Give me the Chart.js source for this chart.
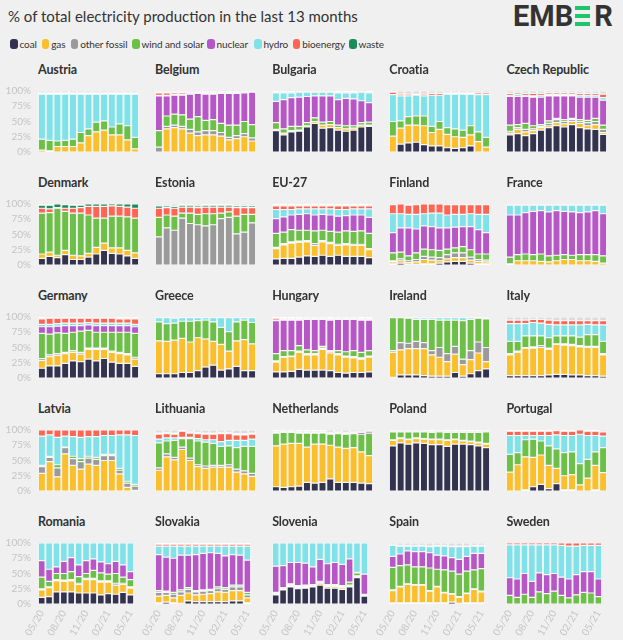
<!DOCTYPE html>
<html>
<head>
<meta charset="utf-8">
<script src="https://cdn.jsdelivr.net/npm/chart.js@4.4.0/dist/chart.umd.min.js"></script>
<style>
  body { margin: 0; background: #f0f0f0; width: 623px; height: 640px; overflow: hidden; position: relative; font-family: Lato, sans-serif; }
  #titre { position: absolute; left: 8px; top: 7px; font-size: 15px; color: #333; white-space: nowrap; line-height: 18px; }
  .item { position: absolute; top: 37px; font-size: 10px; letter-spacing: -0.1px; color: #333; white-space: nowrap; line-height: 14px; }
  .cle { position: absolute; top: 38.7px; width: 7.5px; height: 10.5px; border-radius: 3px; }
  .pays { position: absolute; font-size: 12.5px; letter-spacing: -0.15px; font-weight: bold; color: #333; line-height: 16px; white-space: nowrap; }
  .boite { position: absolute; }
  #logo { position: absolute; left: 513px; top: 3px; height: 26px; font-family: Roboto, sans-serif; font-weight: 700; font-size: 29px; color: #333; line-height: 26px; white-space: nowrap; }
  #logo span { display: inline-block; vertical-align: top; }
  .barre { position: absolute; left: 0; width: 15px; height: 4px; background: #1fc46e; }
</style>
</head>
<body>
<div id="titre">% of total electricity production in the last 13 months</div>
<div id="logo"><span>EMB</span><span style="position:relative;width:17px;height:26px;margin:0 2px;"><i class="barre" style="top:3px"></i><i class="barre" style="top:11px"></i><i class="barre" style="top:19px"></i></span><span>R</span></div>

<script>
// mois et sources
var mois = ["05/20", "06/20", "07/20", "08/20", "09/20", "10/20", "11/20", "12/20", "01/21", "02/21", "03/21", "04/21", "05/21"];
var sources = ["coal", "gas", "other fossil", "wind and solar", "nuclear", "hydro", "bioenergy", "waste", "other"];
var cores = ["#33324f", "#fcbf2c", "#9a9a9a", "#6cbf47", "#b756c6", "#7ee2e8", "#ff6552", "#1c8c5c", "#dcdcdc"];
var paises = ["Austria", "Belgium", "Bulgaria", "Croatia", "Czech Republic",
  "Denmark", "Estonia", "EU-27", "Finland", "France",
  "Germany", "Greece", "Hungary", "Ireland", "Italy",
  "Latvia", "Lithuania", "Netherlands", "Poland", "Portugal",
  "Romania", "Slovakia", "Slovenia", "Spain", "Sweden"];

// linhas: coal, gas, other fossil, wind and solar, nuclear, hydro, bioenergy, waste, other
var austria = [
  [0, 0, 0, 0, 0, 0, 0, 0, 0, 0, 0, 0, 0],
  [3, 2, 9, 9, 9, 15, 27, 33, 36, 28, 28, 20, 5],
  [0, 0, 0, 0, 0, 0, 0, 0, 0, 0, 0, 0, 0],
  [18, 17, 9, 10, 12, 17, 11, 16, 15, 13, 18, 23, 19],
  [0, 0, 0, 0, 0, 0, 0, 0, 0, 0, 0, 0, 0],
  [74, 76, 77, 76, 74, 63, 57, 46, 44, 54, 49, 52, 71],
  [2, 2, 2, 2, 2, 2, 2, 2, 2, 2, 2, 2, 2],
  [0, 0, 0, 0, 0, 0, 0, 0, 0, 0, 0, 0, 0],
  [3, 3, 3, 3, 3, 3, 3, 3, 3, 3, 3, 3, 3]
];
var belgium = [
  [0, 0, 0, 0, 0, 0, 0, 0, 0, 0, 0, 0, 0],
  [0, 38, 40, 38, 31, 27, 28, 28, 26, 20, 22, 25, 18],
  [8, 4, 4, 4, 6, 6, 7, 7, 6, 4, 5, 5, 5],
  [27, 17, 18, 19, 17, 25, 17, 18, 15, 20, 17, 20, 22],
  [57, 33, 31, 32, 41, 38, 43, 42, 49, 52, 52, 47, 53],
  [1, 1, 1, 1, 1, 1, 1, 1, 1, 1, 1, 1, 1],
  [4, 4, 3, 3, 2, 2, 2, 2, 2, 2, 2, 1, 1],
  [2, 2, 2, 2, 1, 1, 1, 1, 1, 1, 1, 1, 0],
  [1, 1, 1, 1, 1, 0, 1, 1, 0, 0, 0, 0, 0]
];
var bulgaria = [
  [35, 28, 33, 34, 41, 47, 39, 40, 36, 34, 36, 41, 42],
  [2, 3, 2, 2, 2, 3, 5, 5, 4, 4, 3, 3, 2],
  [0, 0, 0, 0, 0, 0, 0, 0, 0, 0, 0, 0, 0],
  [11, 7, 7, 6, 5, 6, 5, 5, 4, 5, 4, 4, 5],
  [35, 48, 47, 48, 43, 36, 43, 42, 42, 45, 44, 36, 32],
  [14, 11, 8, 8, 7, 6, 6, 6, 11, 9, 10, 14, 16],
  [1, 1, 1, 1, 1, 1, 1, 1, 1, 1, 1, 1, 1],
  [0, 0, 0, 0, 0, 0, 0, 0, 0, 0, 0, 0, 0],
  [2, 2, 2, 1, 1, 1, 1, 1, 2, 2, 2, 1, 2]
];
var croatia = [
  [0, 13, 15, 16, 12, 10, 10, 7, 6, 7, 10, 0, 0],
  [26, 26, 29, 28, 31, 22, 27, 22, 19, 17, 18, 17, 8],
  [0, 0, 0, 0, 0, 0, 0, 0, 0, 0, 0, 0, 0],
  [24, 12, 14, 15, 16, 10, 13, 11, 13, 12, 15, 16, 16],
  [0, 0, 0, 0, 0, 0, 0, 0, 0, 0, 0, 0, 0],
  [44, 41, 34, 34, 33, 51, 43, 55, 57, 59, 52, 61, 70],
  [4, 3, 3, 2, 3, 3, 3, 2, 2, 2, 2, 3, 3],
  [0, 0, 0, 0, 0, 0, 0, 0, 0, 0, 0, 0, 0],
  [2, 5, 5, 5, 5, 4, 4, 3, 3, 3, 3, 3, 3]
];
var czech = [
  [28, 30, 27, 30, 36, 40, 43, 41, 45, 40, 38, 37, 29],
  [3, 7, 6, 5, 4, 3, 5, 5, 5, 7, 5, 8, 3],
  [3, 3, 4, 3, 2, 4, 5, 4, 3, 3, 5, 5, 5],
  [10, 5, 10, 5, 3, 4, 2, 3, 2, 3, 4, 5, 7],
  [47, 46, 44, 47, 45, 41, 37, 39, 37, 37, 38, 35, 41],
  [2, 3, 2, 2, 3, 2, 2, 2, 2, 3, 3, 3, 4],
  [3, 3, 3, 4, 3, 3, 3, 3, 3, 3, 3, 3, 6],
  [0, 0, 0, 0, 0, 0, 0, 0, 0, 0, 0, 0, 0],
  [4, 3, 4, 4, 4, 3, 3, 3, 3, 4, 4, 4, 5]
];
var denmark = [
  [11, 14, 12, 17, 9, 9, 13, 18, 24, 19, 18, 15, 11],
  [7, 7, 4, 7, 7, 6, 6, 11, 12, 9, 10, 9, 9],
  [0, 0, 0, 0, 0, 0, 0, 0, 0, 0, 0, 0, 0],
  [67, 65, 77, 64, 69, 70, 63, 48, 41, 52, 52, 55, 57],
  [0, 0, 0, 0, 0, 0, 0, 0, 0, 0, 0, 0, 0],
  [0, 0, 0, 0, 0, 0, 0, 0, 0, 0, 0, 0, 0],
  [8, 6, 1, 5, 8, 9, 14, 19, 19, 17, 16, 16, 16],
  [5, 6, 6, 6, 5, 4, 4, 4, 4, 3, 4, 5, 7],
  [2, 2, 0, 1, 2, 2, 0, 0, 0, 0, 0, 0, 0]
];
var estonia = [
  [0, 0, 0, 0, 0, 0, 0, 0, 0, 0, 0, 0, 0],
  [0, 0, 0, 0, 0, 0, 0, 0, 0, 0, 0, 0, 0],
  [46, 61, 57, 77, 68, 66, 64, 66, 76, 78, 51, 54, 69],
  [32, 21, 23, 8, 17, 17, 20, 18, 9, 9, 29, 29, 14],
  [0, 0, 0, 0, 0, 0, 0, 0, 0, 0, 0, 0, 0],
  [0, 0, 0, 0, 0, 0, 0, 0, 0, 0, 0, 0, 0],
  [15, 12, 13, 10, 10, 11, 11, 11, 10, 8, 14, 11, 11],
  [4, 3, 3, 3, 3, 3, 3, 3, 3, 3, 3, 3, 3],
  [3, 3, 4, 2, 2, 3, 2, 2, 2, 2, 3, 3, 3]
];
var eu27 = [
  [10, 11, 11, 13, 15, 14, 16, 14, 16, 14, 14, 14, 12],
  [17, 22, 25, 24, 23, 18, 22, 21, 16, 19, 18, 18, 13],
  [2, 2, 2, 2, 2, 3, 2, 2, 2, 2, 2, 2, 2],
  [23, 19, 20, 18, 17, 21, 17, 18, 20, 21, 21, 22, 25],
  [24, 25, 24, 26, 27, 26, 26, 27, 26, 25, 27, 26, 26],
  [15, 12, 9, 9, 8, 10, 9, 10, 11, 10, 10, 10, 14],
  [6, 6, 6, 5, 5, 5, 5, 5, 6, 6, 5, 5, 5],
  [1, 1, 1, 1, 1, 1, 1, 1, 1, 1, 1, 1, 1],
  [2, 2, 2, 2, 2, 2, 2, 2, 2, 2, 2, 2, 2]
];
var finland = [
  [2, 3, 1, 1, 2, 2, 3, 5, 6, 6, 3, 2, 2],
  [3, 4, 3, 4, 7, 6, 4, 5, 6, 6, 5, 4, 3],
  [2, 3, 3, 4, 5, 5, 5, 7, 8, 8, 5, 3, 3],
  [13, 11, 8, 11, 12, 12, 12, 9, 8, 10, 12, 9, 10],
  [33, 40, 46, 39, 38, 38, 37, 35, 34, 33, 38, 40, 35],
  [31, 23, 22, 24, 20, 22, 24, 21, 21, 20, 21, 25, 30],
  [15, 16, 15, 16, 16, 15, 15, 17, 16, 16, 15, 16, 16],
  [0, 0, 0, 0, 0, 0, 0, 0, 0, 0, 0, 0, 0],
  [1, 0, 2, 1, 0, 0, 0, 1, 1, 1, 1, 1, 1]
];
var france = [
  [0, 0, 0, 0, 0, 0, 0, 0, 0, 0, 0, 0, 0],
  [2, 7, 7, 7, 6, 5, 7, 9, 9, 7, 7, 6, 3],
  [0, 0, 0, 0, 0, 0, 0, 0, 0, 0, 0, 0, 0],
  [11, 10, 11, 10, 12, 10, 9, 8, 7, 10, 10, 11, 12],
  [69, 65, 68, 71, 71, 72, 73, 71, 71, 69, 70, 72, 69],
  [16, 16, 12, 10, 9, 11, 9, 10, 11, 12, 11, 9, 14],
  [1, 1, 1, 1, 1, 1, 1, 1, 1, 1, 1, 1, 1],
  [0, 0, 0, 0, 0, 0, 0, 0, 0, 0, 0, 0, 0],
  [1, 1, 1, 1, 1, 1, 1, 1, 1, 1, 1, 1, 1]
];
var germany = [
  [16, 20, 20, 24, 28, 27, 31, 28, 32, 26, 24, 24, 19],
  [13, 15, 17, 16, 14, 12, 16, 19, 15, 16, 16, 14, 12],
  [3, 3, 3, 2, 3, 3, 2, 2, 2, 2, 2, 2, 3],
  [41, 34, 34, 31, 30, 35, 29, 26, 26, 31, 33, 35, 39],
  [11, 12, 11, 13, 11, 9, 9, 11, 11, 11, 11, 11, 11],
  [4, 4, 4, 4, 4, 4, 4, 4, 4, 4, 4, 4, 4],
  [9, 10, 9, 8, 8, 8, 7, 8, 8, 8, 7, 7, 9],
  [1, 1, 1, 1, 1, 1, 1, 1, 1, 1, 1, 1, 1],
  [2, 1, 1, 1, 1, 1, 1, 1, 1, 1, 2, 2, 2]
];
var greece = [
  [7, 7, 7, 9, 9, 12, 18, 21, 13, 15, 19, 12, 12],
  [54, 53, 55, 56, 50, 54, 46, 39, 42, 29, 42, 51, 44],
  [0, 0, 0, 0, 0, 0, 0, 0, 0, 0, 0, 0, 0],
  [31, 29, 28, 28, 34, 28, 31, 32, 28, 32, 31, 32, 35],
  [0, 0, 0, 0, 0, 0, 0, 0, 0, 0, 0, 0, 0],
  [7, 10, 8, 6, 6, 5, 4, 7, 16, 23, 7, 4, 8],
  [0, 0, 0, 0, 0, 0, 0, 0, 0, 0, 0, 0, 0],
  [0, 0, 0, 0, 0, 0, 0, 0, 0, 0, 0, 0, 0],
  [1, 1, 1, 1, 1, 1, 1, 1, 1, 1, 1, 1, 1]
];
var hungary = [
  [10, 10, 11, 14, 13, 13, 13, 12, 9, 8, 9, 9, 10],
  [16, 24, 24, 28, 25, 25, 34, 29, 29, 26, 24, 22, 24],
  [2, 1, 1, 2, 2, 2, 2, 2, 2, 2, 2, 2, 2],
  [12, 10, 9, 9, 6, 5, 3, 2, 5, 7, 10, 9, 9],
  [54, 50, 50, 42, 50, 51, 44, 50, 51, 53, 51, 53, 50],
  [1, 1, 1, 1, 1, 1, 1, 1, 1, 1, 1, 1, 1],
  [3, 2, 2, 2, 2, 2, 2, 2, 2, 2, 2, 2, 2],
  [0, 0, 0, 0, 0, 0, 0, 0, 0, 0, 0, 0, 0],
  [2, 2, 2, 2, 1, 1, 1, 2, 1, 1, 1, 2, 2]
];
var ireland = [
  [1, 5, 5, 5, 4, 3, 3, 3, 9, 3, 7, 12, 15],
  [41, 41, 43, 43, 44, 35, 31, 24, 30, 19, 23, 29, 12],
  [3, 12, 9, 12, 10, 7, 16, 13, 13, 9, 15, 18, 23],
  [54, 41, 41, 36, 38, 51, 45, 55, 43, 63, 51, 39, 47],
  [0, 0, 0, 0, 0, 0, 0, 0, 0, 0, 0, 0, 0],
  [1, 1, 1, 3, 3, 3, 4, 4, 4, 5, 3, 2, 2],
  [0, 0, 0, 0, 0, 0, 0, 0, 0, 0, 0, 0, 0],
  [0, 0, 0, 0, 0, 0, 0, 0, 0, 0, 0, 0, 0],
  [0, 0, 1, 1, 1, 1, 1, 1, 1, 1, 1, 0, 1]
];
var italy = [
  [4, 4, 4, 4, 4, 5, 6, 6, 5, 5, 4, 4, 3],
  [34, 38, 45, 45, 46, 42, 49, 48, 48, 46, 46, 46, 35],
  [2, 2, 1, 2, 3, 2, 1, 2, 2, 2, 2, 2, 2],
  [20, 16, 19, 18, 16, 17, 13, 13, 14, 14, 19, 19, 20],
  [0, 0, 0, 0, 0, 0, 0, 0, 0, 0, 0, 0, 0],
  [29, 29, 20, 22, 21, 22, 18, 18, 18, 20, 17, 16, 27],
  [6, 6, 6, 5, 6, 7, 7, 7, 7, 7, 6, 7, 7],
  [0, 0, 0, 0, 0, 0, 0, 0, 0, 0, 0, 0, 0],
  [5, 5, 5, 4, 4, 5, 6, 6, 6, 6, 6, 6, 6]
];
var latvia = [
  [0, 0, 0, 0, 0, 0, 0, 0, 0, 0, 0, 0, 0],
  [29, 48, 23, 61, 42, 36, 44, 42, 50, 50, 28, 6, 1],
  [11, 7, 15, 10, 11, 12, 10, 10, 8, 8, 6, 7, 7],
  [2, 2, 5, 1, 4, 5, 3, 3, 2, 2, 3, 3, 3],
  [0, 0, 0, 0, 0, 0, 0, 0, 0, 0, 0, 0, 0],
  [48, 35, 45, 18, 32, 35, 32, 34, 31, 31, 55, 76, 80],
  [10, 8, 12, 10, 11, 12, 11, 11, 9, 9, 8, 8, 9],
  [0, 0, 0, 0, 0, 0, 0, 0, 0, 0, 0, 0, 0],
  [0, 0, 0, 0, 0, 0, 0, 0, 0, 0, 0, 0, 0]
];
var lithuania = [
  [0, 0, 0, 0, 0, 0, 0, 0, 0, 0, 0, 0, 0],
  [34, 56, 51, 68, 50, 40, 37, 39, 39, 39, 31, 28, 24],
  [4, 5, 4, 4, 4, 3, 4, 3, 3, 4, 5, 5, 5],
  [41, 21, 28, 14, 32, 39, 39, 36, 31, 31, 35, 40, 44],
  [0, 0, 0, 0, 0, 0, 0, 0, 0, 0, 0, 0, 0],
  [6, 5, 4, 2, 2, 4, 4, 6, 8, 9, 12, 10, 12],
  [8, 7, 6, 10, 7, 8, 9, 9, 13, 11, 9, 9, 8],
  [2, 2, 2, 0, 2, 2, 2, 2, 2, 2, 2, 2, 2],
  [5, 4, 5, 2, 3, 4, 5, 5, 4, 4, 6, 6, 5]
];
var netherlands = [
  [7, 6, 7, 8, 14, 13, 14, 20, 14, 14, 14, 13, 12],
  [67, 71, 71, 70, 58, 64, 63, 55, 58, 56, 57, 51, 46],
  [0, 0, 0, 0, 0, 0, 0, 0, 0, 0, 0, 0, 0],
  [21, 19, 18, 17, 23, 18, 18, 18, 22, 23, 23, 29, 37],
  [2, 2, 2, 2, 2, 2, 2, 2, 2, 2, 2, 3, 3],
  [0, 0, 0, 0, 0, 0, 0, 0, 0, 0, 0, 0, 0],
  [0, 0, 0, 0, 0, 0, 0, 0, 0, 0, 0, 0, 0],
  [1, 1, 1, 1, 1, 1, 1, 1, 1, 1, 1, 1, 1],
  [2, 1, 1, 2, 2, 2, 2, 4, 3, 4, 3, 3, 1]
];
var poland = [
  [74, 79, 77, 79, 78, 76, 76, 73, 77, 77, 76, 74, 71],
  [9, 7, 7, 7, 7, 8, 8, 10, 7, 5, 5, 5, 6],
  [1, 1, 1, 1, 1, 1, 1, 1, 1, 1, 1, 1, 1],
  [13, 10, 12, 10, 11, 11, 12, 12, 11, 13, 14, 16, 19],
  [0, 0, 0, 0, 0, 0, 0, 0, 0, 0, 0, 0, 0],
  [1, 1, 1, 1, 1, 1, 1, 1, 1, 1, 1, 1, 1],
  [1, 1, 1, 1, 1, 1, 1, 1, 1, 1, 1, 1, 1],
  [0, 0, 0, 0, 0, 0, 0, 0, 0, 0, 0, 0, 0],
  [1, 1, 1, 1, 1, 2, 1, 2, 2, 2, 2, 2, 1]
];
var portugal = [
  [0, 0, 2, 7, 11, 4, 12, 2, 2, 0, 0, 2, 0],
  [31, 43, 54, 48, 48, 38, 25, 23, 25, 10, 21, 40, 30],
  [0, 0, 0, 0, 0, 0, 0, 0, 0, 0, 0, 0, 0],
  [29, 20, 28, 30, 23, 32, 32, 38, 37, 35, 31, 22, 41],
  [0, 0, 0, 0, 0, 0, 0, 0, 0, 0, 0, 0, 0],
  [31, 28, 7, 6, 9, 17, 23, 28, 27, 48, 39, 27, 19],
  [7, 7, 7, 7, 7, 7, 7, 7, 7, 7, 7, 7, 7],
  [0, 0, 0, 0, 0, 0, 0, 0, 0, 0, 0, 0, 0],
  [2, 2, 2, 2, 2, 2, 1, 2, 2, 0, 2, 2, 3]
];
var romania = [
  [11, 12, 20, 20, 20, 18, 18, 18, 15, 17, 16, 19, 15],
  [12, 15, 18, 17, 18, 14, 22, 22, 21, 19, 15, 13, 11],
  [2, 1, 2, 2, 2, 2, 2, 2, 2, 2, 3, 2, 2],
  [19, 9, 10, 11, 13, 11, 8, 13, 13, 11, 16, 10, 12],
  [27, 20, 11, 20, 23, 19, 21, 19, 18, 17, 20, 20, 13],
  [29, 43, 39, 30, 24, 36, 29, 26, 31, 34, 30, 36, 47],
  [0, 0, 0, 0, 0, 0, 0, 0, 0, 0, 0, 0, 0],
  [0, 0, 0, 0, 0, 0, 0, 0, 0, 0, 0, 0, 0],
  [0, 0, 0, 0, 0, 0, 0, 0, 0, 0, 0, 0, 0]
];
var slovakia = [
  [2, 3, 2, 1, 5, 4, 4, 4, 4, 4, 5, 5, 2],
  [11, 11, 8, 13, 13, 11, 12, 13, 16, 15, 17, 17, 8],
  [6, 5, 6, 6, 6, 5, 5, 5, 5, 5, 6, 6, 5],
  [3, 2, 3, 3, 3, 2, 2, 2, 3, 3, 3, 3, 4],
  [59, 56, 56, 57, 53, 59, 60, 60, 55, 52, 50, 49, 53],
  [14, 18, 20, 15, 15, 14, 12, 11, 12, 16, 14, 15, 23],
  [3, 3, 3, 3, 3, 3, 3, 3, 3, 3, 3, 3, 3],
  [0, 0, 0, 0, 0, 0, 0, 0, 0, 0, 0, 0, 0],
  [2, 2, 2, 2, 2, 2, 2, 2, 2, 2, 2, 2, 2]
];
var slovenia = [
  [15, 23, 28, 25, 26, 28, 31, 26, 26, 24, 28, 43, 13],
  [1, 2, 2, 2, 2, 2, 3, 3, 3, 3, 2, 2, 1],
  [1, 1, 1, 1, 1, 1, 1, 1, 1, 1, 1, 1, 1],
  [2, 1, 2, 2, 2, 1, 2, 2, 2, 2, 5, 5, 1],
  [43, 36, 35, 38, 36, 29, 36, 34, 36, 35, 38, 1, 33],
  [38, 37, 32, 32, 33, 39, 27, 34, 32, 35, 26, 48, 51],
  [0, 0, 0, 0, 0, 0, 0, 0, 0, 0, 0, 0, 0],
  [0, 0, 0, 0, 0, 0, 0, 0, 0, 0, 0, 0, 0],
  [0, 0, 0, 0, 0, 0, 0, 0, 0, 0, 0, 0, 0]
];
var spain = [
  [2, 2, 2, 2, 2, 2, 2, 2, 3, 1, 2, 2, 2],
  [20, 26, 30, 29, 29, 19, 26, 16, 13, 10, 15, 22, 18],
  [1, 1, 1, 1, 1, 1, 1, 1, 1, 1, 1, 1, 1],
  [37, 34, 31, 29, 29, 37, 28, 37, 37, 37, 36, 31, 37],
  [18, 19, 23, 25, 25, 25, 23, 23, 22, 24, 24, 27, 25],
  [18, 13, 8, 9, 9, 10, 15, 16, 18, 21, 16, 12, 12],
  [1, 1, 1, 1, 1, 1, 1, 1, 1, 1, 1, 1, 1],
  [0, 0, 0, 0, 0, 0, 0, 0, 0, 0, 0, 0, 0],
  [3, 4, 4, 4, 4, 5, 4, 4, 5, 5, 5, 4, 4]
];
var sweden = [
  [0, 0, 0, 0, 0, 0, 0, 0, 0, 0, 0, 0, 0],
  [0, 0, 0, 0, 0, 0, 0, 0, 0, 0, 0, 0, 0],
  [0, 0, 0, 0, 0, 0, 0, 0, 0, 0, 0, 0, 0],
  [14, 11, 16, 11, 20, 17, 21, 14, 10, 15, 19, 18, 12],
  [29, 30, 34, 26, 31, 31, 29, 30, 31, 33, 34, 35, 29],
  [54, 56, 47, 60, 46, 49, 47, 52, 54, 47, 43, 43, 55],
  [3, 3, 3, 3, 3, 3, 3, 4, 5, 5, 4, 4, 4],
  [0, 0, 0, 0, 0, 0, 0, 0, 0, 0, 0, 0, 0],
  [0, 0, 0, 0, 0, 0, 0, 0, 0, 0, 0, 0, 0]
];
var dados_paises = [austria, belgium, bulgaria, croatia, czech,
  denmark, estonia, eu27, finland, france,
  germany, greece, hungary, ireland, italy,
  latvia, lithuania, netherlands, poland, portugal,
  romania, slovakia, slovenia, spain, sweden];

// legenda (sem "other"), posicoes das chaves
var posLegenda = [10, 41.7, 70.7, 132, 207, 254, 292.7, 349];
for (var s = 0; s < 8; s++) {
  var cle = document.createElement("div");
  cle.className = "cle";
  cle.style.left = posLegenda[s] + "px";
  cle.style.background = cores[s];
  document.body.appendChild(cle);
  var txt = document.createElement("div");
  txt.className = "item";
  txt.style.left = (posLegenda[s] + 9.5) + "px";
  txt.textContent = sources[s];
  document.body.appendChild(txt);
}

function criar_painel(i) {
  var col = i % 5;
  var lin = Math.floor(i / 5);
  var plotX = 38 + col * 117.1;
  var plotY = 91.3 + lin * 113;
  var larg = 101, alt = 61;
  var esq = col == 0 ? 38 : 28;
  var dir = 6;
  var baixo = lin == 4 ? 34 : 8;

  var nome = document.createElement("div");
  nome.className = "pays";
  nome.style.left = plotX + "px";
  nome.style.top = (69.7 + lin * 113 - 8) + "px";
  nome.textContent = paises[i];
  document.body.appendChild(nome);

  var boite = document.createElement("div");
  boite.className = "boite";
  boite.style.left = (plotX - esq) + "px";
  boite.style.top = (plotY - 8) + "px";
  var cv = document.createElement("canvas");
  cv.width = esq + larg + dir;
  cv.height = 8 + alt + baixo;
  boite.appendChild(cv);
  document.body.appendChild(boite);

  var conjuntos = [];
  for (var s = 0; s < sources.length; s++) {
    conjuntos.push({
      label: sources[s],
      data: dados_paises[i][s],
      backgroundColor: cores[s],
      borderColor: "#ffffff",
      borderWidth: 0.6,
      borderSkipped: false,
      barPercentage: 0.92,
      categoryPercentage: 1,
    });
  }

  var eixoX = {
    stacked: true,
    display: lin == 4,
    grid: { display: false, drawTicks: false },
    border: { display: false },
    ticks: {
      autoSkip: false,
      minRotation: 60,
      maxRotation: 60,
      padding: 4,
      color: "#c4c4c4",
      font: { family: "Lato", size: 10 },
      callback: function (v, idx) { return idx % 3 === 0 ? mois[idx] : null; },
    },
  };
  if (lin == 4) eixoX.afterFit = function (sc) { sc.height = 34; };

  var eixoY = {
    stacked: true,
    display: col == 0,
    min: 0,
    max: 100,
    grid: { display: false, drawTicks: false },
    border: { display: false },
    ticks: {
      autoSkip: false,
      stepSize: 25,
      padding: 7,
      color: "#c4c4c4",
      font: { family: "Lato", size: 10 },
      callback: function (v) { return v + "%"; },
    },
  };
  if (col == 0) {
    eixoY.afterFit = function (sc) {
      sc.width = 38;
      sc.paddingTop = 0;
      sc.paddingBottom = 0;
    };
  }

  new Chart(cv, {
    type: "bar",
    data: { labels: mois, datasets: conjuntos },
    options: {
      responsive: false,
      animation: false,
      layout: { padding: { left: col == 0 ? 0 : esq, right: dir, top: 8, bottom: lin == 4 ? 0 : 8 } },
      plugins: { legend: { display: false }, tooltip: { enabled: false } },
      scales: { x: eixoX, y: eixoY },
    },
  });
}

for (var p = 0; p < paises.length; p++) {
  criar_painel(p);
}
</script>
</body>
</html>
